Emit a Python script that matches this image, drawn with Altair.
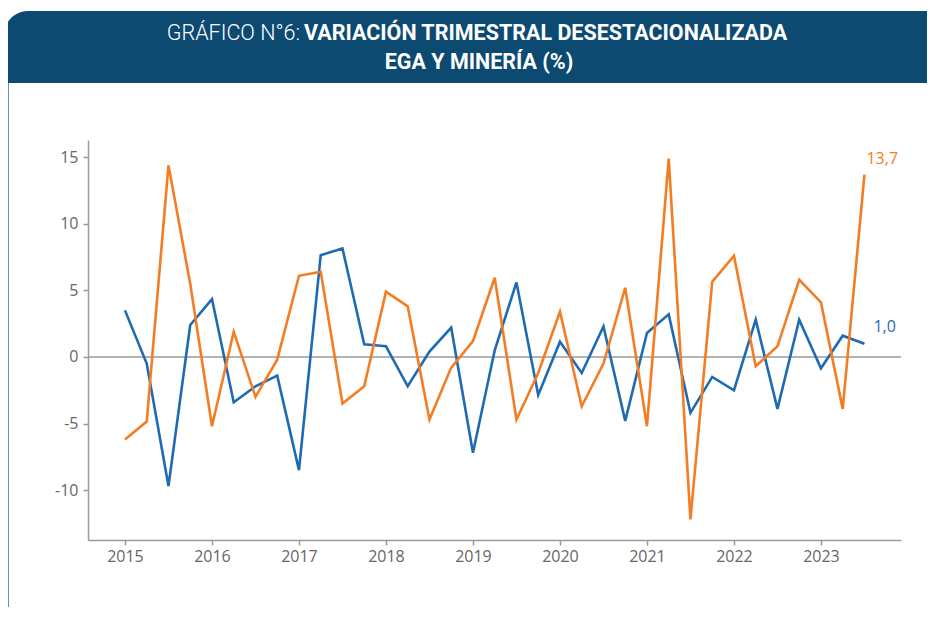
import altair as alt
import pandas as pd

# ---- data ----
years = [2015, 2016, 2017, 2018, 2019, 2020, 2021, 2022, 2023]
n_quarters = 35  # 2015-T1 .. 2023-T3

ega = [3.5, -0.5, -9.7, 2.4, 4.35, -3.4, -2.2, -1.4, -8.5, 7.65, 8.15, 0.95,
       0.8, -2.2, 0.4, 2.2, -7.2, 0.5, 5.6, -2.85, 1.15, -1.2, 2.3, -4.8,
       1.8, 3.2, -4.2, -1.5, -2.5, 2.8, -3.9, 2.8, -0.85, 1.6, 1.0]
mineria = [-6.2, -4.85, 14.4, 5.5, -5.2, 1.9, -3.0, -0.2, 6.1, 6.4, -3.5, -2.2,
           4.9, 3.8, -4.7, -0.8, 1.2, 5.95, -4.7, -1.2, 3.4, -3.7, -0.5, 5.2,
           -5.2, 14.9, -12.2, 5.65, 7.6, -0.7, 0.8, 5.8, 4.1, -3.9, 13.7]
series_names = ["EGA", "Minería"]
series_colors = ["#1f6bb3", "#f47d24"]
end_labels = ["1,0", "13,7"]
y_ticks = [-10, -5, 0, 5, 10, 15]

title_light = "GRÁFICO N°6:"
title_bold_1 = "VARIACIÓN TRIMESTRAL DESESTACIONALIZADA"
title_bold_2 = "EGA Y MINERÍA (%)"

# ---- tables ----
x_pos = [years[0] + i / 4 for i in range(n_quarters)]
df = pd.concat([
    pd.DataFrame({"t": x_pos, "v": ega, "s": series_names[0]}),
    pd.DataFrame({"t": x_pos, "v": mineria, "s": series_names[1]}),
])
df_last = pd.DataFrame({
    "t": [x_pos[-1], x_pos[-1]],
    "v": [ega[-1], mineria[-1]],
    "s": series_names,
    "lab": end_labels,
})

W, H = 813, 400
X_DOM = [2014.575, 2023.92]
Y_DOM = [-13.75, 16.3]
color_scale = alt.Scale(domain=series_names, range=series_colors)
xs = alt.Scale(domain=X_DOM, nice=False, zero=False)
ys = alt.Scale(domain=Y_DOM, nice=False, zero=False)

AX_FONT = "Open Sans"
one = alt.Data(values=[{}])

banner = alt.Chart(one).mark_rect(color="#0d4a72", cornerRadiusTopLeft=24).encode(
    x=alt.value(-84), x2=alt.value(W + 40), y=alt.value(-129), y2=alt.value(-57)
)
left_border = alt.Chart(one).mark_rule(color="#6a90b0", strokeWidth=2).encode(
    x=alt.value(-80), y=alt.value(-57), y2=alt.value(H + 90)
)
TF = "Roboto"
t1a = alt.Chart(one).mark_text(
    text=title_light, font=TF, fontSize=21.5, fontWeight=300, color="white",
    align="right", baseline="middle"
).encode(x=alt.value(212), y=alt.value(-106))
t1b = alt.Chart(one).mark_text(
    text=title_bold_1, font=TF, fontSize=21.5, fontWeight="bold", color="white",
    align="left", baseline="middle"
).encode(x=alt.value(216), y=alt.value(-106))
t2 = alt.Chart(one).mark_text(
    text=title_bold_2, font=TF, fontSize=21.5, fontWeight="bold", color="white",
    align="center", baseline="middle"
).encode(x=alt.value(391), y=alt.value(-77))

zero = alt.Chart(pd.DataFrame({"z": [0]})).mark_rule(color="#9a9a9a", strokeWidth=1.5).encode(
    y=alt.Y("z:Q", scale=ys)
)

axis_common = dict(grid=False, labelFontSize=16, labelFont=AX_FONT, labelColor="#666666",
                   domainColor="#9a9a9a", domainWidth=1.5, tickColor="#9a9a9a",
                   tickSize=5, tickWidth=1.5)

lines = alt.Chart(df).mark_line(strokeWidth=2.6).encode(
    x=alt.X("t:Q", scale=xs, title=None,
            axis=alt.Axis(values=years, format="d", labelPadding=3, **axis_common)),
    y=alt.Y("v:Q", scale=ys, title=None,
            axis=alt.Axis(values=y_ticks, labelExpr="toString(datum.value)",
                          labelPadding=5, **axis_common)),
    color=alt.Color("s:N", scale=color_scale, legend=None),
    detail="s:N",
)

lab_orange = alt.Chart(df_last[df_last.s == series_names[1]]).mark_text(
    font=AX_FONT, fontSize=16, align="left", baseline="middle", dx=2, dy=-16
).encode(x=alt.X("t:Q", scale=xs), y=alt.Y("v:Q", scale=ys), text="lab:N",
         color=alt.Color("s:N", scale=color_scale, legend=None))
lab_blue = alt.Chart(df_last[df_last.s == series_names[0]]).mark_text(
    font=AX_FONT, fontSize=16, align="left", baseline="middle", dx=9, dy=-17
).encode(x=alt.X("t:Q", scale=xs), y=alt.Y("v:Q", scale=ys), text="lab:N",
         color=alt.Color("s:N", scale=color_scale, legend=None))

chart = alt.layer(
    banner, left_border, t1a, t1b, t2, zero, lines, lab_orange, lab_blue
).properties(
    width=W, height=H,
    background="white",
    autosize=alt.AutoSizeParams(type="none"),
    padding={"left": 80, "top": 132, "right": 26, "bottom": 67},
).configure_view(stroke=None)

chart.save("out.html", embed_options={"renderer": "svg", "actions": False})
